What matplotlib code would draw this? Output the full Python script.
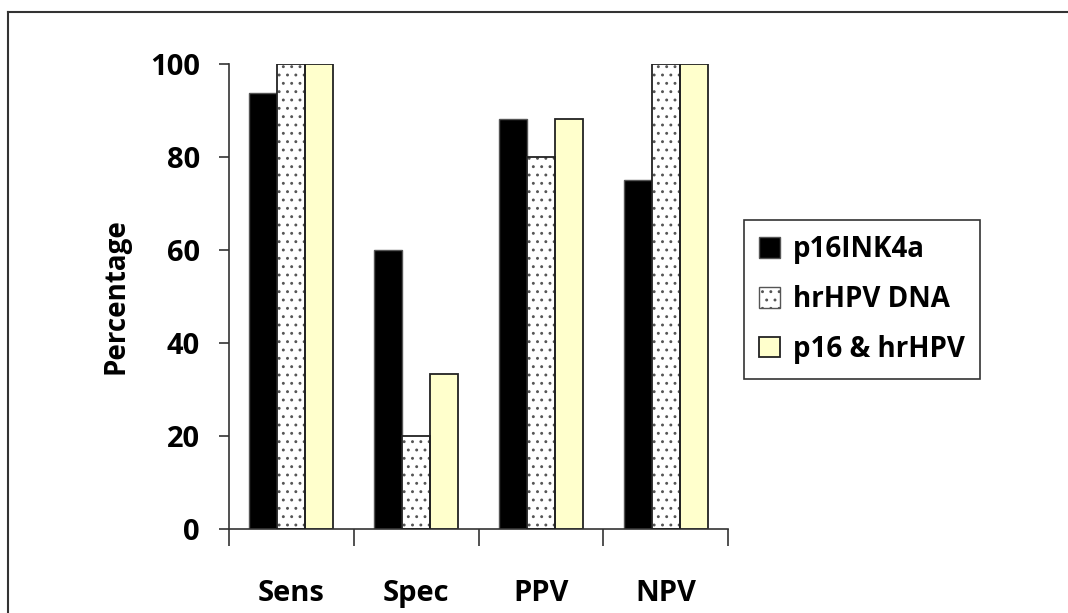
import matplotlib
matplotlib.use("Agg")
import matplotlib.pyplot as plt
import numpy as np
from matplotlib.lines import Line2D
from matplotlib.patches import Patch

plt.rcParams['font.family'] = ['Open Sans', 'DejaVu Sans']
plt.rcParams['font.weight'] = 'bold'
plt.rcParams['hatch.linewidth'] = 0.9

categories = ["Sens", "Spec", "PPV", "NPV"]
series_names = ["p16INK4a", "hrHPV DNA", "p16 & hrHPV"]
p16 = [93.75, 60.0, 88.2, 75.0]
hrhpv = [100.0, 20.0, 80.0, 100.0]
combo = [100.0, 33.3, 88.2, 100.0]
yticks = [0, 20, 40, 60, 80, 100]

FS = 21
W, H = 1068, 613
fig = plt.figure(figsize=(W / 100, H / 100), dpi=100)
ax = fig.add_axes([229 / W, 1 - 529 / H, (728 - 229) / W, (529 - 64) / H])

x = np.arange(len(categories)) + 0.5
bw = 0.225
ax.bar(x - bw, p16, bw, color='black', edgecolor='#555555', linewidth=1.0, zorder=2)
ax.bar(x, hrhpv, bw, color='white', edgecolor='#555555', hatch='..',
       linewidth=0, zorder=2)
ax.bar(x, hrhpv, bw, color='none', edgecolor='#222222', linewidth=1.3, zorder=3)
ax.bar(x + bw, combo, bw, color='#FFFFCC', edgecolor='#222222', linewidth=1.3, zorder=2)

ax.set_xlim(0, len(categories))
ax.set_ylim(0, 100)
ax.set_yticks(yticks)
ax.set_yticklabels([str(v) for v in yticks], fontsize=FS, fontweight='bold')
ax.set_xticks(np.arange(len(categories) + 1))
ax.set_xticklabels([])
ax.set_xticks(x, minor=True)
ax.set_xticklabels(categories, minor=True, fontsize=FS, fontweight='bold')
ax.tick_params(axis='x', which='major', direction='out', length=12, width=1.2, color='#333333')
ax.tick_params(axis='x', which='minor', length=0, pad=36)
ax.tick_params(axis='y', direction='out', length=7, width=1.2, color='#333333', pad=14)
for s in ['top', 'right']:
    ax.spines[s].set_visible(False)
for s in ['left', 'bottom']:
    ax.spines[s].set_linewidth(1.2)
    ax.spines[s].set_color('#333333')
ax.set_ylabel("Percentage", fontsize=FS - 1, fontweight='bold', labelpad=14)

handles = [
    Patch(facecolor='black', edgecolor='#555555', linewidth=1.0),
    Patch(facecolor='white', edgecolor='#555555', hatch='..', linewidth=1.0),
    Patch(facecolor='#FFFFCC', edgecolor='#222222', linewidth=1.3),
]
leg = fig.legend(handles, series_names, loc='upper left',
                 bbox_to_anchor=(744 / W, 1 - 220 / H), frameon=True,
                 fancybox=False, edgecolor='black', fontsize=FS - 1,
                 handlelength=0.75, handleheight=0.75, handletextpad=0.45,
                 labelspacing=0.75, borderpad=0.55, borderaxespad=0)
leg.get_frame().set_linewidth(1.2)
for t in leg.get_texts():
    t.set_fontweight('bold')

fig.add_artist(Line2D([8 / W, 1.0], [1 - 12 / H, 1 - 12 / H], transform=fig.transFigure,
                      color='#333333', linewidth=1.5))
fig.add_artist(Line2D([8 / W, 8 / W], [1 - 12 / H, 0.0], transform=fig.transFigure,
                      color='#333333', linewidth=1.5))

fig.savefig("out.png", dpi=100, facecolor='white')
